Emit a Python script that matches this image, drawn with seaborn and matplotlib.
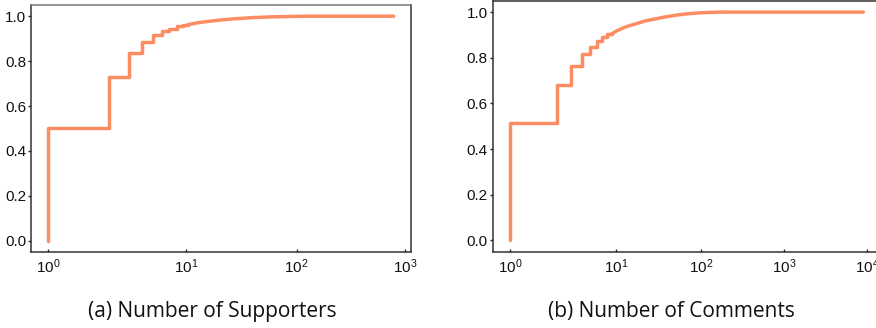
import numpy as np
import matplotlib
matplotlib.use("Agg")
import matplotlib.pyplot as plt
import matplotlib.ticker as mticker
import seaborn as sns

# CDF of number of supporters: discrete steps, then the smooth tail
supp_step_x = [1, 1, 2.33, 3.27, 4.21, 5.14, 6.12, 7.11, 8.33, 9.4, 10.3]
supp_step_cdf = [0, 0.504, 0.731, 0.835, 0.884, 0.916, 0.932, 0.944, 0.956, 0.962, 0.962]
supp_tail_x = [10.3, 12, 14, 17, 21, 26, 30, 40, 58, 90, 120, 790]
supp_tail_cdf = [0.962, 0.969, 0.974, 0.979, 0.984, 0.988, 0.990, 0.994, 0.997,
                 0.999, 1.0, 1.0]

# CDF of number of comments
comm_step_x = [1, 1, 2.33, 3.22, 4.15, 5.06, 6.01, 6.92, 7.81, 8.8]
comm_step_cdf = [0, 0.513, 0.679, 0.764, 0.816, 0.848, 0.872, 0.889, 0.904, 0.904]
comm_tail_x = [8.8, 10, 12, 14, 17.9, 22, 28.4, 35, 45.3, 56, 70.3, 90, 112, 150,
               195, 9036]
comm_tail_cdf = [0.904, 0.917, 0.931, 0.940, 0.952, 0.962, 0.970, 0.977, 0.984,
                 0.989, 0.993, 0.996, 0.998, 0.9995, 1.0, 1.0]

supp_ticks = [1, 10, 100, 1000]
comm_ticks = [1, 10, 100, 1000, 10000]
y_ticks = [0.0, 0.2, 0.4, 0.6, 0.8, 1.0]
captions = ["(a) Number of Supporters", "(b) Number of Comments"]

sns.set_style("ticks")
plt.rcParams["font.family"] = ["Liberation Sans", "DejaVu Sans"]
plt.rcParams["mathtext.fontset"] = "custom"
plt.rcParams["mathtext.rm"] = "Liberation Sans"
plt.rcParams["mathtext.it"] = "Liberation Sans"

color = sns.color_palette("Set2")[1]


# log axis shifted by half a unit (that is how the original ticks are spaced)
def fwd(x):
    x = np.asarray(x, dtype=float)
    return np.log10(np.maximum(x - 0.5, 1e-9))


def inv(y):
    return 10 ** np.asarray(y, dtype=float) + 0.5


fig = plt.figure(figsize=(8.76, 3.28), dpi=100)
ax1 = fig.add_axes([31 / 876, 1 - 252 / 328, 380 / 876, 247 / 328])
ax2 = fig.add_axes([492.7 / 876, 1 - 251.7 / 328, 388.3 / 876, 251 / 328])

panels = [(ax1, supp_step_x, supp_step_cdf, supp_tail_x, supp_tail_cdf, supp_ticks),
          (ax2, comm_step_x, comm_step_cdf, comm_tail_x, comm_tail_cdf, comm_ticks)]

for ax, sx, sy, tx, ty, ticks in panels:
    ax.set_xscale("function", functions=(fwd, inv))
    sns.lineplot(x=sx, y=sy, ax=ax, color=color, linewidth=2.5,
                 drawstyle="steps-post", estimator=None, sort=False)
    sns.lineplot(x=tx, y=ty, ax=ax, color=color, linewidth=2.5,
                 estimator=None, sort=False)
    # 5% margin in the transformed space
    lo, hi = fwd(min(sx)), fwd(max(tx))
    pad = 0.05 * (hi - lo)
    ax.set_xlim(inv(lo - pad), inv(hi + pad))
    ax.set_ylim(-0.05, 1.05)
    ax.set_xticks(ticks)
    ax.set_xticklabels(["$10^{%d}$" % int(round(np.log10(t))) for t in ticks])
    ax.xaxis.set_minor_locator(mticker.NullLocator())
    ax.set_yticks(y_ticks)
    ax.set_yticklabels(["%.1f" % v for v in y_ticks])
    ax.tick_params(axis="y", labelsize=11, length=2.2, width=1, pad=1.2,
                   labelcolor="#111111")
    ax.tick_params(axis="x", labelsize=11, length=2, width=1, pad=4,
                   direction="in", labelcolor="#111111")
    for s in ax.spines.values():
        s.set_visible(True)
        s.set_color("#333333")
        s.set_linewidth(1.1)
    ax.set_xlabel("")
    ax.set_ylabel("")

ax1.spines["top"].set_color("#777777")

fig.text(212 / 876, 1 - 317.3 / 328, captions[0], ha="center", va="baseline",
         fontsize=15, family="Open Sans", color="#111111")
fig.text(671 / 876, 1 - 317.3 / 328, captions[1], ha="center", va="baseline",
         fontsize=15, family="Open Sans", color="#111111")

fig.savefig("out.png", dpi=100)
